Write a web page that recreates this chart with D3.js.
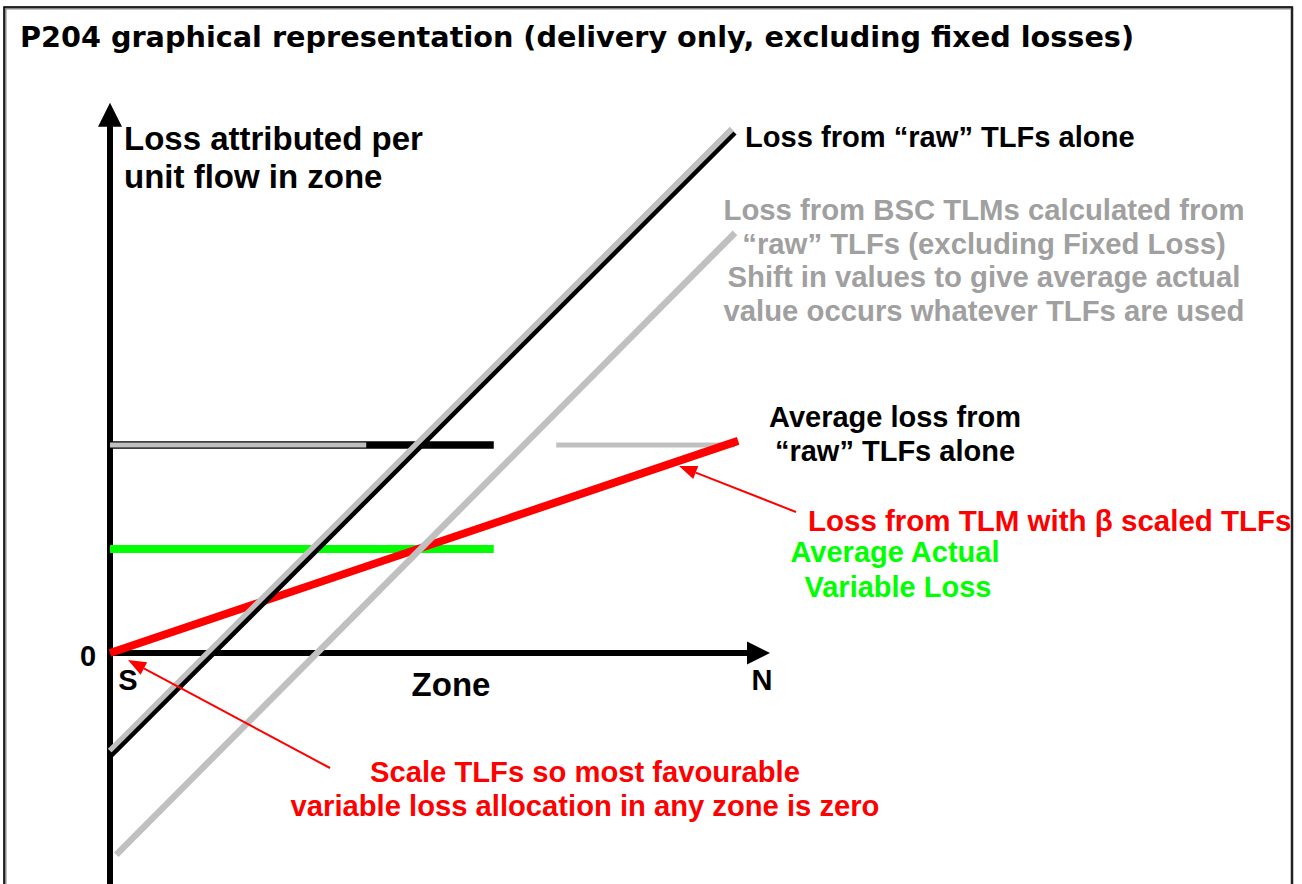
<!DOCTYPE html>
<html>
<head>
<meta charset="utf-8">
<script src="https://cdn.jsdelivr.net/npm/d3@7"></script>
<style>
  body { margin: 0; background: #fff; }
  svg { display: block; }
</style>
</head>
<body>
<div id="chart"></div>
<script>
// Zone runs from S (0) to N (1); loss values are relative to the average raw loss (= 1)
const rawLoss = [{zone: 0, loss: -0.5}, {zone: 1, loss: 2.5}];
const rawLossShadow = [{zone: 0, loss: -0.47}, {zone: 0.995, loss: 2.52}];
const bscLoss = [{zone: 0.01, loss: -0.97}, {zone: 1.0, loss: 2.02}];
const scaledLoss = [{zone: 0, loss: 0}, {zone: 1.005, loss: 1.02}];
const avgRawLeft = [{zone: 0, loss: 1}, {zone: 0.614, loss: 1}];
const avgRawGrey = [{zone: 0, loss: 1}, {zone: 0.41, loss: 1}];
const avgRawRight = [{zone: 0.714, loss: 1}, {zone: 1.0, loss: 1}];
const avgActual = [{zone: 0, loss: 0.5}, {zone: 0.614, loss: 0.5}];
const axisExtent = {zoneMax: 1.056, lossMin: -1.12, lossMax: 2.645};

const width = 1302, height = 884;
const x = d3.scaleLinear().domain([0, 1]).range([110, 735]);
const y = d3.scaleLinear().domain([0, 1]).range([653, 445]);

const svg = d3.select("#chart").append("svg")
    .attr("width", width)
    .attr("height", height);

// frame
svg.append("rect")
    .attr("x", 5).attr("y", 8)
    .attr("width", 1287).attr("height", 1000)
    .attr("fill", "none")
    .attr("stroke", "#888")
    .attr("stroke-width", 3);
svg.append("rect")
    .attr("x", 4).attr("y", 7)
    .attr("width", 1288).attr("height", 1000)
    .attr("fill", "none")
    .attr("stroke", "#000")
    .attr("stroke-width", 1.5);

svg.append("text")
    .attr("x", 20).attr("y", 47)
    .style("font-family", "'DejaVu Sans', Verdana, sans-serif")
    .style("font-weight", "bold")
    .style("font-size", "28.7px")
    .text("P204 graphical representation (delivery only, excluding fixed losses)");

const line = d3.line().x(d => x(d.zone)).y(d => y(d.loss));

// axes
const yTop = y(axisExtent.lossMax);
svg.append("line")
    .attr("x1", x(0)).attr("x2", x(0))
    .attr("y1", y(axisExtent.lossMin)).attr("y2", yTop + 20)
    .attr("stroke", "#000").attr("stroke-width", 6);
svg.append("path")
    .attr("d", `M${x(0)},${yTop} L${x(0) - 12},${yTop + 24} L${x(0) + 12},${yTop + 24} Z`)
    .attr("fill", "#000");

const xEnd = x(axisExtent.zoneMax);
svg.append("line")
    .attr("x1", x(0)).attr("x2", xEnd - 20)
    .attr("y1", y(0)).attr("y2", y(0))
    .attr("stroke", "#000").attr("stroke-width", 6);
svg.append("path")
    .attr("d", `M${xEnd},${y(0)} L${xEnd - 23},${y(0) - 11.5} L${xEnd - 23},${y(0) + 11.5} Z`)
    .attr("fill", "#000");

// horizontal averages
svg.append("path").datum(avgRawLeft).attr("d", line)
    .attr("stroke", "#000").attr("stroke-width", 7.5).attr("fill", "none");
svg.append("path").datum(avgRawGrey).attr("d", line)
    .attr("stroke", "#c0c0c0").attr("stroke-width", 5).attr("fill", "none");
svg.append("path").datum(avgRawRight).attr("d", line)
    .attr("stroke", "#c0c0c0").attr("stroke-width", 5).attr("fill", "none");
svg.append("path").datum(avgActual).attr("d", line)
    .attr("stroke", "#00ff00").attr("stroke-width", 8).attr("fill", "none");

// sloped loss lines
svg.append("path").datum(scaledLoss).attr("d", line)
    .attr("stroke", "#ff0000").attr("stroke-width", 8).attr("fill", "none");
svg.append("path").datum(bscLoss).attr("d", line)
    .attr("stroke", "#c0c0c0").attr("stroke-width", 6.5).attr("fill", "none");
svg.append("path").datum(rawLossShadow).attr("d", line)
    .attr("stroke", "#c0c0c0").attr("stroke-width", 6).attr("fill", "none");
svg.append("path").datum(rawLoss).attr("d", line)
    .attr("stroke", "#000").attr("stroke-width", 4.5).attr("fill", "none");

// red pointer arrows
function pointer(x1, y1, x2, y2) {
    const ang = Math.atan2(y2 - y1, x2 - x1);
    const len = 18, half = 7;
    const bx = x2 - len * Math.cos(ang), by = y2 - len * Math.sin(ang);
    svg.append("line")
        .attr("x1", x1).attr("y1", y1).attr("x2", bx).attr("y2", by)
        .attr("stroke", "#ff0000").attr("stroke-width", 2);
    svg.append("path")
        .attr("d", `M${x2},${y2} L${bx - half * Math.sin(ang)},${by + half * Math.cos(ang)} L${bx + half * Math.sin(ang)},${by - half * Math.cos(ang)} Z`)
        .attr("fill", "#ff0000");
}
pointer(796, 512, 679, 466);
pointer(330, 768, 128, 660);

// labels
function label(txt, px, py, opts) {
    const o = Object.assign({size: 29, color: "#000", anchor: "start"}, opts);
    svg.append("text")
        .attr("x", px).attr("y", py)
        .attr("text-anchor", o.anchor)
        .style("font-family", "'Liberation Sans', Arial, sans-serif")
        .style("font-weight", "bold")
        .style("font-size", o.size + "px")
        .style("fill", o.color)
        .text(txt);
}
label("Loss attributed per", 124, 150, {size: 33});
label("unit flow in zone", 124, 188, {size: 33});
label("0", 88, 666, {size: 29, anchor: "middle"});
label("S", 128, 690, {size: 29, anchor: "middle"});
label("N", 762, 690, {size: 29, anchor: "middle"});
label("Zone", 451, 696, {size: 33, anchor: "middle"});

label("Loss from \u201craw\u201d TLFs alone", 745, 147, {size: 29.1});

const grey = "#a0a0a0";
label("Loss from BSC TLMs calculated from", 984, 220, {size: 29.3, color: grey, anchor: "middle"});
label("\u201craw\u201d TLFs (excluding Fixed Loss)", 984, 254, {size: 29.3, color: grey, anchor: "middle"});
label("Shift in values to give average actual", 984, 287, {size: 29.3, color: grey, anchor: "middle"});
label("value occurs whatever TLFs are used", 984, 321, {size: 29.3, color: grey, anchor: "middle"});

label("Average loss from", 895, 427, {size: 29, anchor: "middle"});
label("\u201craw\u201d TLFs alone", 895, 461, {size: 29, anchor: "middle"});

label("Loss from TLM with \u03b2 scaled TLFs", 808, 531, {size: 29.5, color: "#ff0000"});
label("Average Actual", 895, 562, {size: 29, color: "#00ff00", anchor: "middle"});
label("Variable Loss", 898, 597, {size: 29, color: "#00ff00", anchor: "middle"});

label("Scale TLFs so most favourable", 585, 782, {size: 29.2, color: "#ff0000", anchor: "middle"});
label("variable loss allocation in any zone is zero", 585, 816, {size: 29.2, color: "#ff0000", anchor: "middle"});
</script>
</body>
</html>
